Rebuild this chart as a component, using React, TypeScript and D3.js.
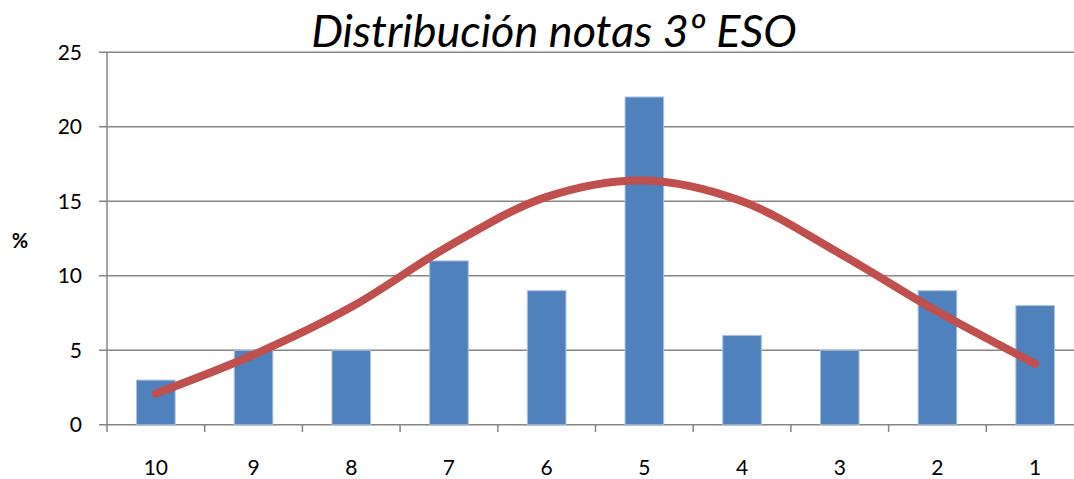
import React from "react";
import * as d3 from "d3";

// Grade categories, from highest to lowest
const grades = ["10", "9", "8", "7", "6", "5", "4", "3", "2", "1"];
// Share of students per grade (%)
const percentages = [3, 5, 5, 11, 9, 22, 6, 5, 9, 8];
// Smoothed fitted distribution (%)
const fitted = [2.1, 4.7, 7.9, 12.0, 15.3, 16.4, 15.0, 11.5, 7.6, 4.1];
// Y-axis ticks
const yTicks = [0, 5, 10, 15, 20, 25];

const W = 1074;
const H = 479;
const FONT = "Lato, 'Open Sans', sans-serif";

export default function App() {
  const left = 107;
  const step = 97.7;
  const x = d3
    .scaleBand<string>()
    .domain(grades)
    .range([left, left + step * grades.length])
    .padding(0);
  const y = d3.scaleLinear().domain([0, 25]).range([424.8, 52.3]);
  const barW = x.bandwidth() * 0.395;

  const line = d3
    .line<number>()
    .x((_, i) => (x(grades[i]) as number) + x.bandwidth() / 2)
    .y((d) => y(d))
    .curve(d3.curveCatmullRom.alpha(0.5));

  const axisColor = "#868686";

  return (
    <svg
      width={W}
      height={H}
      style={{ position: "absolute", left: 0, top: 0, background: "#fff" }}
    >
      <rect width={W} height={H} fill="#fff" />
      <text
        x={554}
        y={47}
        textAnchor="middle"
        fontFamily={FONT}
        fontStyle="italic"
        fontSize={45}
        fill="#000"
      >
        Distribución notas 3º ESO
      </text>

      {/* gridlines and y ticks */}
      {yTicks.map((t) => (
        <g key={t}>
          <line
            x1={99}
            x2={W}
            y1={y(t)}
            y2={y(t)}
            stroke={axisColor}
            strokeWidth={1.5}
          />
          <text
            x={82}
            y={y(t)}
            dy="0.36em"
            textAnchor="end"
            fontFamily={FONT}
            fontSize={21}
            fill="#000"
          >
            {t}
          </text>
        </g>
      ))}

      {/* y axis */}
      <line
        x1={left}
        x2={left}
        y1={y(25)}
        y2={432}
        stroke={axisColor}
        strokeWidth={1.5}
      />

      {/* x ticks at category boundaries */}
      {grades.map((g) => (
        <line
          key={"t" + g}
          x1={(x(g) as number) + x.bandwidth()}
          x2={(x(g) as number) + x.bandwidth()}
          y1={y(0)}
          y2={432}
          stroke={axisColor}
          strokeWidth={1.5}
        />
      ))}

      {/* bars */}
      {grades.map((g, i) => (
        <rect
          key={"b" + g}
          x={(x(g) as number) + (x.bandwidth() - barW) / 2}
          y={y(percentages[i])}
          width={barW}
          height={y(0) - y(percentages[i])}
          fill="#4F81BD"
          stroke="#A9C1DF"
          strokeWidth={1}
        />
      ))}

      {/* x labels */}
      {grades.map((g) => (
        <text
          key={"l" + g}
          x={(x(g) as number) + x.bandwidth() / 2}
          y={467}
          dy="0.36em"
          textAnchor="middle"
          fontFamily={FONT}
          fontSize={21}
          fill="#000"
        >
          {g}
        </text>
      ))}

      {/* fitted curve */}
      <path
        d={line(fitted) || ""}
        fill="none"
        stroke="#C0504D"
        strokeWidth={8}
        strokeLinecap="round"
        strokeLinejoin="round"
      />

      <text
        x={20}
        y={241}
        dy="0.36em"
        textAnchor="middle"
        fontFamily={FONT}
        fontWeight="bold"
        fontSize={20}
        fill="#000"
      >
        %
      </text>
    </svg>
  );
}
